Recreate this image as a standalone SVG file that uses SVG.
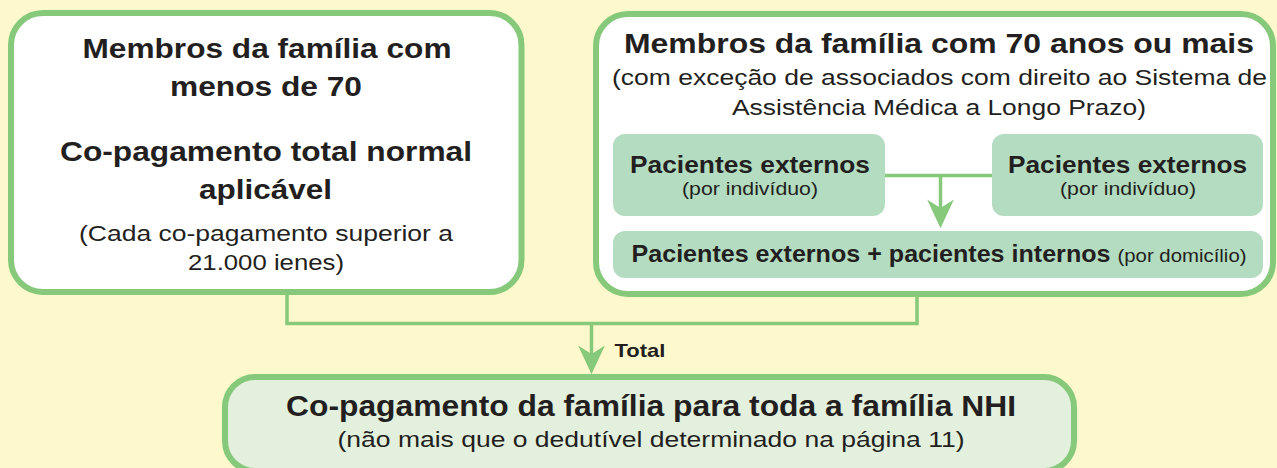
<svg xmlns="http://www.w3.org/2000/svg" width="1277" height="468" viewBox="0 0 1277 468">
<style>
.bg{fill:#fef9cc}
.box{fill:#ffffff;stroke:#86c97a;stroke-width:6}
.inner{fill:#b3dcc1}
.result{fill:#e3f0de;stroke:#86c97a;stroke-width:6}
.line{fill:none;stroke:#86c97a;stroke-width:3.5}
text{font-family:"Liberation Sans",Arial,sans-serif;fill:#231f20;text-anchor:middle}
.b{font-weight:bold}
</style>
<defs>
<marker id="arr" markerUnits="userSpaceOnUse" markerWidth="30" markerHeight="30" viewBox="0 -13 28 26" refX="8" refY="0" orient="auto">
<path d="M0,-12.5 L8,0 L0,12.5 L27,0 Z" fill="#86c97a"/>
</marker>
</defs>
<rect class="bg" x="0" y="0" width="1277" height="468"/>
<g id="under70">
<rect class="box" x="11" y="13" width="510.5" height="279" rx="32"/>
<text class="b" x="267" y="58" font-size="28" textLength="369" lengthAdjust="spacingAndGlyphs">Membros da família com</text>
<text class="b" x="266" y="96" font-size="28" textLength="192" lengthAdjust="spacingAndGlyphs">menos de 70</text>
<text class="b" x="266" y="161" font-size="28" textLength="412" lengthAdjust="spacingAndGlyphs">Co-pagamento total normal</text>
<text class="b" x="265.5" y="199" font-size="28" textLength="133" lengthAdjust="spacingAndGlyphs">aplicável</text>
<text x="266" y="241" font-size="22" textLength="374" lengthAdjust="spacingAndGlyphs">(Cada co-pagamento superior a</text>
<text x="266" y="270" font-size="22" textLength="156" lengthAdjust="spacingAndGlyphs">21.000 ienes)</text>
</g>
<g id="over70">
<rect class="box" x="596" y="14" width="677" height="280" rx="32"/>
<text class="b" x="939" y="53" font-size="27" textLength="630" lengthAdjust="spacingAndGlyphs">Membros da família com 70 anos ou mais</text>
<text x="939.5" y="85" font-size="22" textLength="655" lengthAdjust="spacingAndGlyphs">(com exceção de associados com direito ao Sistema de</text>
<text x="939" y="115" font-size="22" textLength="414" lengthAdjust="spacingAndGlyphs">Assistência Médica a Longo Prazo)</text>
</g>
<g id="outpatient-left">
<rect class="inner" x="613" y="134" width="272" height="82" rx="12"/>
<text class="b" x="750" y="173" font-size="24" textLength="240" lengthAdjust="spacingAndGlyphs">Pacientes externos</text>
<text x="750" y="195" font-size="18" textLength="136" lengthAdjust="spacingAndGlyphs">(por indivíduo)</text>
</g>
<g id="outpatient-right">
<rect class="inner" x="992" y="134" width="271" height="82" rx="12"/>
<text class="b" x="1127.5" y="173" font-size="24" textLength="239" lengthAdjust="spacingAndGlyphs">Pacientes externos</text>
<text x="1128" y="195" font-size="18" textLength="136" lengthAdjust="spacingAndGlyphs">(por indivíduo)</text>
</g>
<g id="household">
<rect class="inner" x="613" y="231" width="650" height="47" rx="12"/>
<text class="b" x="871" y="262" font-size="24" textLength="479" lengthAdjust="spacingAndGlyphs">Pacientes externos + pacientes internos</text>
<text x="1182" y="262" font-size="18" textLength="129" lengthAdjust="spacingAndGlyphs">(por domicílio)</text>
</g>
<g id="total-family">
<rect class="result" x="225" y="377" width="849" height="94" rx="30"/>
<text class="b" x="651" y="416" font-size="29" textLength="730" lengthAdjust="spacingAndGlyphs">Co-pagamento da família para toda a família NHI</text>
<text x="651" y="447" font-size="22" textLength="627" lengthAdjust="spacingAndGlyphs">(não mais que o dedutível determinado na página 11)</text>
</g>
<g id="connectors">
<path class="line" d="M287,295 V323.5 H917 V297"/>
<path class="line" d="M591.5,323.5 V354" marker-end="url(#arr)"/>
<path class="line" d="M885,175.5 H992"/>
<path class="line" d="M940.5,175.5 V208" marker-end="url(#arr)"/>
<text class="b" x="640" y="357" font-size="19" textLength="51" lengthAdjust="spacingAndGlyphs">Total</text>
</g>
</svg>
